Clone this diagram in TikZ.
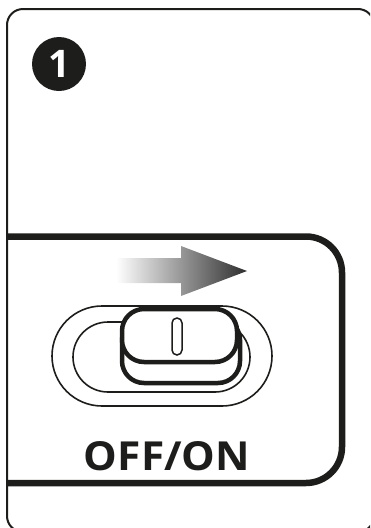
\documentclass[tikz,border=0pt]{standalone}
\usepackage{fontspec}
\setsansfont{Open Sans}
\usepackage{xcolor}
\definecolor{ink}{HTML}{1D1D1B}
\usetikzlibrary{positioning}

\begin{document}
\begin{tikzpicture}[
        x=1pt, y=-1pt,
        frame/.style={draw=ink, line width=2pt, rounded corners=16pt},
        panel/.style={draw=ink, line width=6.5pt, rounded corners=36pt},
        track/.style={draw=ink, line width=1.6pt, fill=white},
        knob/.style={draw=ink, line width=4.5pt, fill=white, rounded corners=22pt},
        badge/.style={circle, fill=ink, minimum size=54pt, inner sep=0pt,
          text=white, font=\sffamily\bfseries\fontsize{38}{38}\selectfont},
        caption/.style={text=ink, inner sep=0pt, xscale=1.06,
          font=\sffamily\bfseries\fontsize{40}{40}\selectfont},
      ]

      \useasboundingbox (0,0) rectangle (370,528);
      \clip (0,0) rectangle (370,528);

      % outer card
      \draw[frame] (7,9) rectangle (374,532);

      % step number
      \node[badge] (num) at (59,64) {1};

      % inner panel
      \draw[panel] (7,236.5) -- (342,236.5) -- (342,483) -- (7,483);

      % direction arrow
      \shade[left color=white, right color=black!82]
        (116,258) -- (181,258) -- (181,246) -- (247,271)
        -- (181,296) -- (181,283) -- (116,283) -- cycle;

      % switch tracks
      \draw[track, rounded corners=50pt] (52,306) rectangle (272,406);
      \draw[track, rounded corners=35pt] (73,322) rectangle (250,392);

      % slider knob
      \draw[knob] (122,318) rectangle (240,383);
      \draw[knob] (122,309) rectangle (237,362);
      \draw[draw=ink, line width=1.5pt, rounded corners=5pt]
        (172,318) rectangle (182,355);

      % label
      \node[caption] (lbl) at (167,456) {OFF/ON};

    \end{tikzpicture}
\end{document}
